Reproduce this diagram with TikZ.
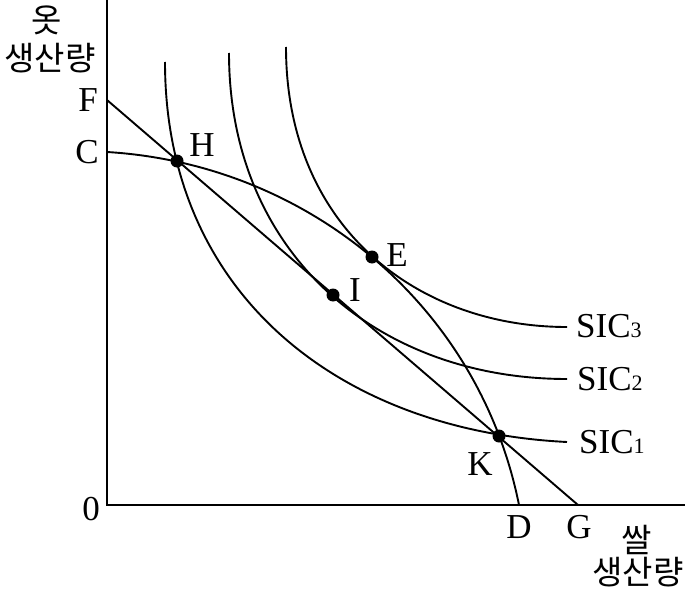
\documentclass[tikz,border=0pt]{standalone}
\usepackage{fontspec}
\setmainfont{Liberation Serif}
\newfontfamily\krfont{Noto Sans CJK KR}
\begin{document}
\begin{tikzpicture}[x=1pt,y=-1pt,
  curve/.style={line width=1.9pt},
  axis/.style={line width=2.3pt},
  lbl/.style={font=\fontsize{35}{35}\selectfont, inner sep=0pt},
  kr/.style={font=\krfont\fontsize{33}{33}\selectfont, inner sep=0pt},
  dot/.style={circle, fill=black, minimum size=13pt, inner sep=0pt}]
\useasboundingbox (0,0) rectangle (687,591);
% axes
\coordinate (Ytop) at (107,0);
\coordinate (O) at (107,505);
\coordinate (Xend) at (685,505);
\coordinate (F) at (107,100);
\coordinate (C) at (107,152);
\coordinate (D) at (519,505);
\coordinate (G) at (578,505);
\coordinate (S1a) at (165,62);
\coordinate (S1b) at (567,442);
\coordinate (S2a) at (229,53);
\coordinate (S2b) at (567,379);
\coordinate (S3a) at (286,47);
\coordinate (S3b) at (567,327);
\draw[axis] (Ytop) -- (O) -- (Xend);
% budget line
\draw[curve] (F) -- (G);
% production possibility frontier
\draw[curve] (C) .. controls (307,164) and (479,305) .. (D);
% social indifference curves
\draw[curve] (S1a) .. controls (165,292) and (337,430.5) .. (S1b);
\draw[curve] (S2a) .. controls (229,253) and (377,379) .. (S2b);
\draw[curve] (S3a) .. controls (286,227) and (417,327) .. (S3b);
% points
\node[dot] (H) at (177,161) {};
\node[dot] (E) at (372,257) {};
\node[dot] (I) at (333,295) {};
\node[dot] (K) at (499,436) {};
% labels
\node[lbl] (Fl) at (88,100) {F};
\node[lbl] (Cl) at (87,152) {C};
\node[lbl] (Hl) at (202,145) {H};
\node[lbl] (El) at (397,255) {E};
\node[lbl] (Il) at (355,290) {I};
\node[lbl] (Kl) at (480,464) {K};
\node[lbl] (Dl) at (519,527) {D};
\node[lbl] (Gl) at (579,527) {G};
\node[lbl] (Ol) at (91,509) {0};
\node[lbl, anchor=base west] (S3) at (576,337) {SIC{\fontsize{22}{22}\selectfont 3}};
\node[lbl, anchor=base west] (S2) at (577,390) {SIC{\fontsize{22}{22}\selectfont 2}};
\node[lbl, anchor=base west] (S1) at (579,453) {SIC{\fontsize{22}{22}\selectfont 1}};
\node[kr] (ky1) at (47,20) {옷};
\node[kr] (ky2) at (50,58) {생산량};
\node[kr] (kx1) at (637,540) {쌀};
\node[kr] (kx2) at (638,572) {생산량};
\end{tikzpicture}
\end{document}
